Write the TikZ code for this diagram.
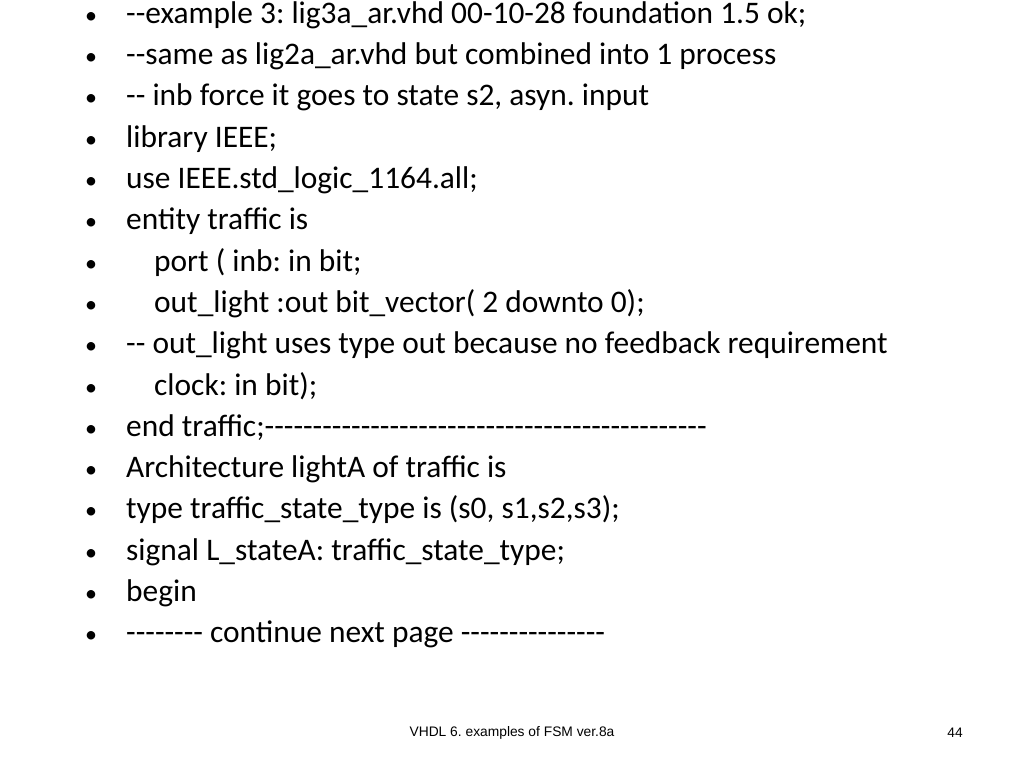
\documentclass[tikz,border=0pt]{standalone}
\usepackage{fontspec}
\setmainfont{Carlito}[Ligatures=TeXOff]
\newfontfamily\foot{Liberation Sans}
\frenchspacing
\begin{document}
\begin{tikzpicture}[x=1pt,y=-1pt,
  ln/.style={anchor=mid west,inner sep=0pt,font=\fontsize{31.4}{36}\selectfont},
  bul/.style={anchor=mid,inner sep=0pt,font=\fontsize{24}{30}\selectfont}]
\useasboundingbox[fill=white] (0,0) rectangle (1024,768);
\foreach \t [count=\i] in {
 {--example 3: lig3a\_ar.vhd 00-10-28 foundation 1.5 ok;},
 {--same as lig2a\_ar.vhd but combined into 1 process},
 {-- inb force it goes to state s2, asyn. input},
 {library IEEE;},
 {use IEEE.std\_logic\_1164.all;},
 {entity traffic is},
 {\hspace*{28pt}port ( inb: in bit;},
 {\hspace*{28pt}out\_light :out bit\_vector( 2 downto 0);},
 {-- out\_light uses type out because no feedback requirement},
 {\hspace*{28pt}clock: in bit);},
 {end traffic;----------------------------------------------},
 {Architecture lightA of traffic is},
 {type traffic\_state\_type is (s0, s1,s2,s3);},
 {signal L\_stateA: traffic\_state\_type;},
 {begin},
 {-------- continue next page ---------------}}
{
  \node[bul] (b\i) at (91,{21+(\i-1)*41.3}) {\textbullet};
  \node[ln] (t\i) at (126,{21+(\i-1)*41.3}) {\t};
}
\node[font=\foot\fontsize{13.8}{16}\selectfont] (f) at (512,733) {VHDL 6. examples of FSM ver.8a};
\node[font=\foot\fontsize{13.8}{16}\selectfont] (p) at (955,733) {44};
\end{tikzpicture}
\end{document}
